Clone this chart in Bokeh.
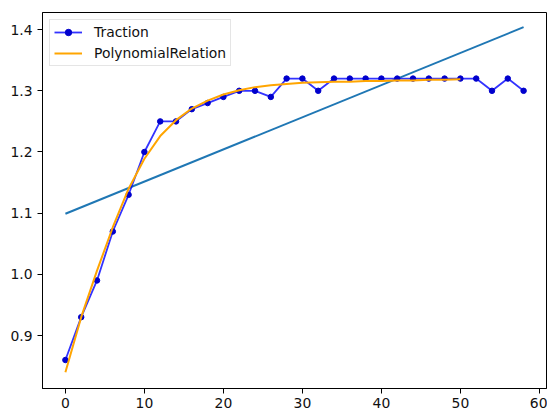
from bokeh.plotting import figure
from bokeh.models import Range1d, Legend, LegendItem, FixedTicker, PrintfTickFormatter
from bokeh.embed import file_html
from bokeh.resources import INLINE

# Traction measurements
traction_x = [0, 2, 4, 6, 8, 10, 12, 14, 16, 18, 20, 22, 24, 26, 28, 30, 32, 34, 36, 38,
              40, 42, 44, 46, 48, 50, 52, 54, 56, 58]
traction_y = [0.86, 0.93, 0.99, 1.07, 1.13, 1.20, 1.25, 1.25, 1.27, 1.28, 1.29, 1.30, 1.30, 1.29,
              1.32, 1.32, 1.30, 1.32, 1.32, 1.32, 1.32, 1.32, 1.32, 1.32, 1.32, 1.32, 1.32, 1.30,
              1.32, 1.30]

# Polynomial relation curve
poly_x = [0, 2, 4, 6, 8, 10, 12, 14, 16, 18, 20, 22, 24, 26, 28, 30, 32, 34, 36, 38, 40,
          42, 44, 46, 48, 50]
poly_y = [0.840, 0.930, 1.006, 1.077, 1.140, 1.189, 1.226, 1.252, 1.271, 1.284, 1.294, 1.301,
          1.306, 1.309, 1.311, 1.313, 1.314, 1.315, 1.315, 1.316, 1.316, 1.317, 1.317, 1.318,
          1.318, 1.319]

# Linear fit line
lin_x = [0, 58]
lin_y = [1.099, 1.404]

x_ticks = [0, 10, 20, 30, 40, 50, 60]
y_ticks = [0.9, 1.0, 1.1, 1.2, 1.3, 1.4]

FONT = "DejaVu Sans"
FS = "13.9px"

p = figure(width=547, height=413, output_backend="svg", toolbar_location=None,
           x_range=Range1d(-2.9, 60.9), y_range=Range1d(0.8134, 1.428),
           min_border_left=42, min_border_right=1, min_border_top=12, min_border_bottom=25)
p.grid.visible = False
p.outline_line_color = "black"
p.outline_line_width = 1
p.background_fill_color = "white"
p.border_fill_color = "white"

for ax in (p.xaxis, p.yaxis):
    ax.axis_line_color = "black"
    ax.major_tick_line_color = "black"
    ax.major_tick_out = 5
    ax.major_tick_in = 0
    ax.minor_tick_line_color = None
    ax.major_label_text_font = FONT
    ax.major_label_text_font_size = FS
    ax.major_label_text_color = "#111111"

p.xaxis.major_label_standoff = 4
p.yaxis.major_label_standoff = 5
p.xaxis.ticker = FixedTicker(ticks=x_ticks)
p.yaxis.ticker = FixedTicker(ticks=y_ticks)
p.yaxis.formatter = PrintfTickFormatter(format="%.1f")

lin = p.line(lin_x, lin_y, line_color="#1f77b4", line_width=2)
tr_line = p.line(traction_x, traction_y, line_color="#0000ff", line_alpha=0.8, line_width=1.8)
tr_pts = p.scatter(traction_x, traction_y, size=5.5, fill_color="#0000cd", line_color="#0000cd")
poly = p.line(poly_x, poly_y, line_color="orange", line_width=2)

legend = Legend(items=[LegendItem(label="Traction", renderers=[tr_line, tr_pts]),
                       LegendItem(label="PolynomialRelation", renderers=[poly])],
                location="top_left")
legend.label_text_font = FONT
legend.label_text_font_size = FS
legend.label_text_color = "#111111"
legend.glyph_width = 28
legend.glyph_height = 16
legend.label_height = 16
legend.label_standoff = 12
legend.spacing = 5
legend.padding = 4
legend.margin = 7
legend.border_line_color = "#cccccc"
legend.border_line_width = 1
legend.background_fill_alpha = 0.8
p.add_layout(legend)

open("out.html", "w").write(file_html(p, INLINE))
